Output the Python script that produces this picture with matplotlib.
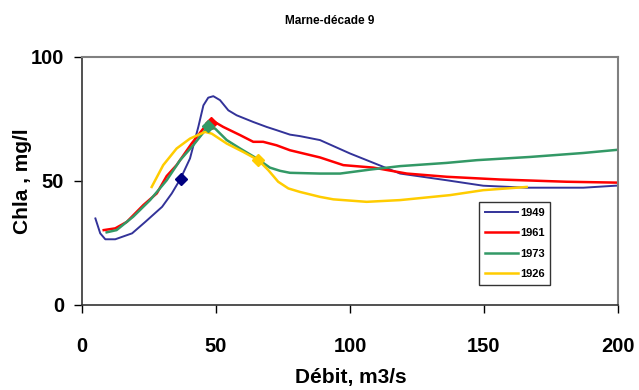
import matplotlib
matplotlib.use("Agg")
import matplotlib.pyplot as plt
from matplotlib import font_manager

# ── Font: Arial Narrow look-alike if present ──────────────────
names = {f.name for f in font_manager.fontManager.ttflist}
FONT = "Liberation Sans Narrow" if "Liberation Sans Narrow" in names else "Liberation Sans"
plt.rcParams["font.family"] = [FONT, "DejaVu Sans"]
plt.rcParams["font.weight"] = "bold"

# ── Data ───────────────────────────────────────────────────────
x_1949 = [5.0, 6.8, 8.7, 12.4, 18.7, 23.6, 29.9, 33.5, 36.8, 40.3, 43.4, 45.3,
          47.1, 49.0, 51.5, 54.6, 57.7, 63.9, 68.9, 72.6, 77.6, 81.3, 88.8, 100,
          118.7, 136.1, 149.7, 165.9, 187.1, 202]
y_1949 = [34.9, 28.9, 26.5, 26.5, 28.9, 33.5, 39.6, 45.0, 51.0, 59.1, 71.8, 80.5,
          83.6, 84.2, 82.6, 78.5, 76.5, 73.8, 71.8, 70.5, 68.7, 68.1, 66.5, 61.1,
          53.0, 50.3, 48.1, 47.3, 47.3, 48.3]

x_1961 = [8.1, 12.4, 16.7, 22.9, 27.9, 31.6, 35.3, 40.9, 45.3, 48.4, 52.7, 59.0,
          63.9, 67.6, 72.6, 77.6, 88.8, 97.5, 108.7, 121.2, 136.1, 156, 180.8, 202]
y_1961 = [30.2, 30.9, 33.5, 40.3, 45.0, 52.0, 56.4, 65.1, 71.2, 74.5, 71.8, 68.5,
          65.8, 65.8, 64.4, 62.4, 59.5, 56.4, 55.4, 53.0, 51.7, 50.6, 49.7, 49.3]

x_1973 = [9.2, 12.9, 19.1, 25.4, 31.6, 36.6, 41.5, 46.5, 49.6, 54.0, 59.0, 65.2,
          70.1, 73.9, 77.6, 88.8, 96.3, 107.5, 118.7, 136.1, 147.3, 167.2, 187.1, 202]
y_1973 = [29.3, 30.2, 35.6, 42.3, 50.3, 58.4, 64.4, 71.2, 71.2, 66.5, 63.1, 59.1,
          55.4, 54.1, 53.3, 53.0, 53.0, 54.6, 56.0, 57.3, 58.4, 59.7, 61.3, 62.8]

x_1926 = [26.0, 30.3, 35.3, 40.3, 45.9, 48.4, 54.0, 60.2, 65.8, 69.5, 73.2, 77.0,
          81.3, 88.8, 93.8, 106.2, 118.7, 137.3, 149.7, 165.9]
y_1926 = [47.6, 56.4, 63.1, 67.1, 69.8, 69.1, 65.1, 61.7, 58.4, 54.4, 49.7, 47.0,
          45.6, 43.6, 42.6, 41.6, 42.3, 44.3, 46.3, 47.6]

# single highlighted points (diamonds)
pt_1949 = (36.8, 51.0)
pt_1961 = (48.2, 73.5)
pt_1973 = (47.0, 72.0)
pt_1926 = (65.8, 58.6)

x_ticks = [0, 50, 100, 150, 200]
y_ticks = [0, 50, 100]

# ── Plot ───────────────────────────────────────────────────────
fig = plt.figure(figsize=(6.39, 3.90), dpi=100)
ax = fig.add_axes([82 / 639, 1 - 305 / 390, 536 / 639, 248 / 390])

ax.plot(x_1949, y_1949, color="#333399", lw=1.4, label="1949")
ax.plot(x_1961, y_1961, color="#ff0000", lw=1.8, label="1961")
ax.plot(x_1973, y_1973, color="#339966", lw=1.8, label="1973")
ax.plot(x_1926, y_1926, color="#ffcc00", lw=1.8, label="1926")

ax.plot(*pt_1949, marker="D", ms=6, color="#000080", ls="none")
ax.plot(*pt_1961, marker="D", ms=6, color="#ff0000", ls="none")
ax.plot(*pt_1973, marker="D", ms=6, color="#339966", ls="none")
ax.plot(*pt_1926, marker="D", ms=6, color="#ffcc00", ls="none")

ax.set_xlim(0, 200)
ax.set_ylim(0, 100)
ax.set_xticks(x_ticks)
ax.set_yticks(y_ticks)
ax.tick_params(axis="x", length=6, width=1, pad=17, labelsize=14.5)
ax.tick_params(axis="y", length=6, width=1, pad=7, labelsize=14.5)

for side in ("top", "right"):
    ax.spines[side].set_color("#808080")
    ax.spines[side].set_linewidth(1.5)
for side in ("left", "bottom"):
    ax.spines[side].set_color("#333333")
    ax.spines[side].set_linewidth(1.2)

fig.text(330 / 639, 1 - 21 / 390, "Marne-décade 9", ha="center", va="center",
         fontsize=8.5, fontweight="bold")
fig.text(351 / 639, 1 - 378 / 390, "Débit, m3/s", ha="center", va="center",
         fontsize=15, fontweight="bold")
fig.text(23 / 639, 1 - 181 / 390, "Chla , mg/l", ha="center", va="center",
         rotation=90, fontsize=15, fontweight="bold")

leg = ax.legend(loc="upper left", bbox_to_anchor=((479 - 82) / 536, (305 - 202) / 248),
                fontsize=8, frameon=True, fancybox=False, edgecolor="black",
                handlelength=3.0, handletextpad=0.2, labelspacing=0.95,
                borderpad=0.5, borderaxespad=0)
leg.get_frame().set_linewidth(1.0)
for t in leg.get_texts():
    t.set_fontweight("bold")

fig.savefig("out.png", dpi=100)
